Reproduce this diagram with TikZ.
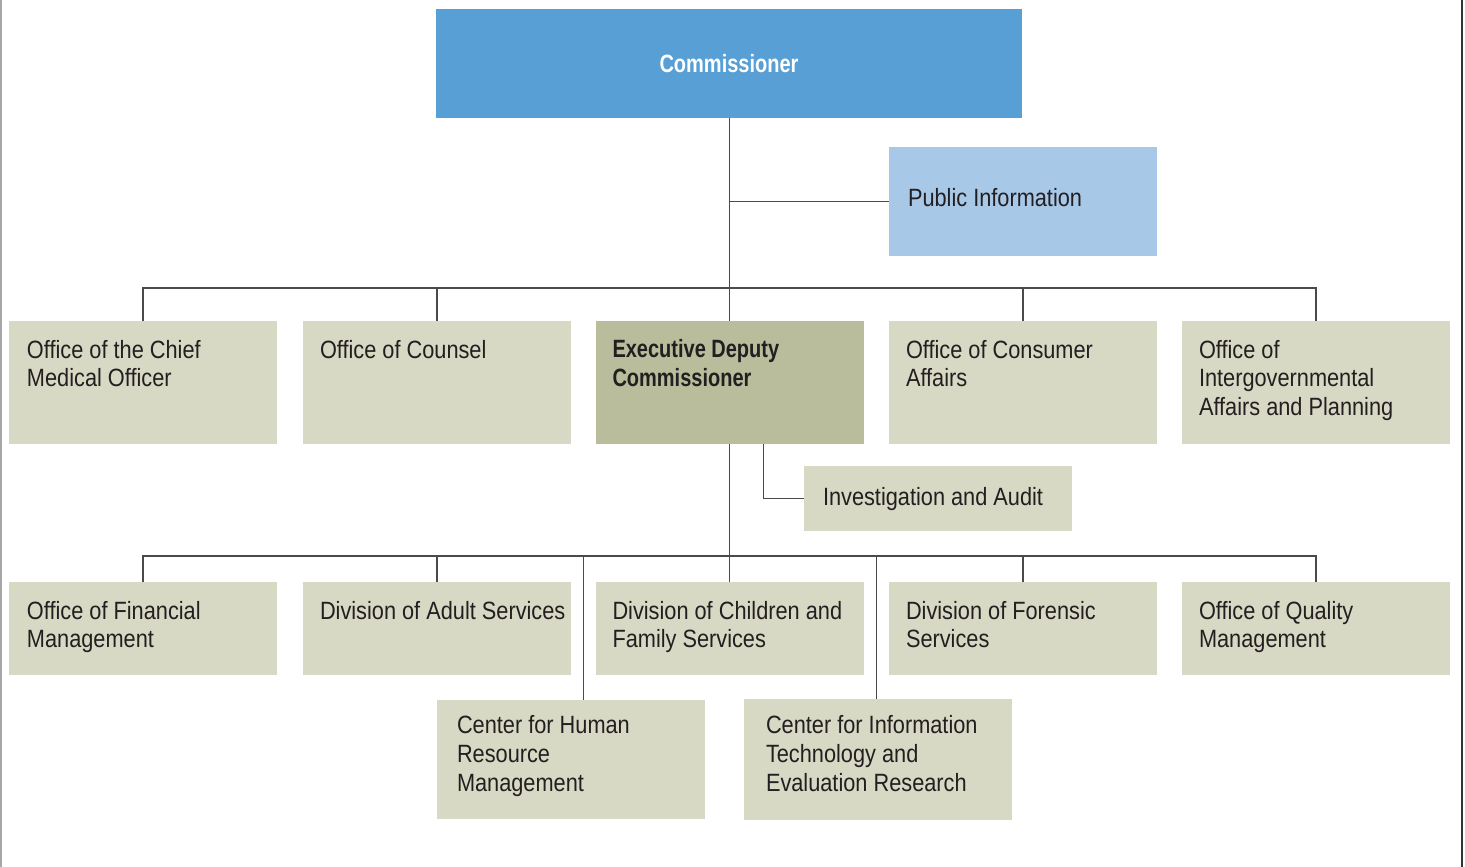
\documentclass[tikz,border=0pt]{standalone}
\usepackage{fontspec}
\usetikzlibrary{calc}
\newfontfamily\regf{Liberation Sans}[FakeStretch=0.87]
\newfontfamily\boldf{Liberation Sans}[FakeStretch=0.8]
\definecolor{comblue}{HTML}{589FD5}
\definecolor{publue}{HTML}{A8C8E8}
\definecolor{beige}{HTML}{D8D9C4}
\definecolor{olive}{HTML}{B9BD9C}
\definecolor{txt}{HTML}{231F20}
\definecolor{ln}{HTML}{4A4A4A}
% #1 width, #2 height, #3 left pad, #4 first baseline offset, #5 text
\newcommand{\bxt}[5]{\parbox[c][#2pt][t]{#1pt}{\raggedright\leftskip=#3pt\relax
  \vspace*{\dimexpr #4pt-20pt\relax}\rule{0pt}{20pt}#5}}
\begin{document}
\begin{tikzpicture}[x=1pt,y=-1pt,
  box/.style={inner sep=0pt, outer sep=0pt, fill=beige, text=txt,
    font=\regf\fontsize{25}{28.8}\selectfont},
  conn/.style={draw=ln, line width=1.5pt}]
\useasboundingbox (0,0) rectangle (1465,867);
\fill[white] (0,0) rectangle (1465,867);
\draw[draw=black!35, line width=1.5pt] (0.75,0) -- (0.75,867);
\draw[draw=black!80, line width=1.5pt] (1462,0) -- (1462,867);

% top
\node[box, fill=comblue, text=white, minimum width=586pt, minimum height=109pt,
  font=\boldf\bfseries\fontsize{25}{28.8}\selectfont] (com) at (729,63.5) {\rule{0pt}{17pt}Commissioner};
\node[box, fill=publue] (pub) at (1023,201.5) {\bxt{268}{109}{19}{59}{Public Information}};

% row 1
\node[box] (cmo)  at (143,382.5)  {\bxt{268}{123}{18}{37}{Office of the Chief\\Medical Officer}};
\node[box] (cou)  at (437,382.5)  {\bxt{268}{123}{17}{37}{Office of Counsel}};
\node[box, fill=olive, font=\boldf\bfseries\fontsize{25}{29.5}\selectfont] (edc) at (729.5,382.5)
  {\bxt{268}{123}{17}{36}{Executive Deputy\\Commissioner}};
\node[box] (oca)  at (1023,382.5) {\bxt{268}{123}{17}{37}{Office of Consumer\\Affairs}};
\node[box] (igov) at (1316,382.5) {\bxt{268}{123}{17}{37}{Office of\\Intergovernmental\\Affairs and Planning}};

\node[box] (inv) at (938,498.25) {\bxt{268}{64.5}{19}{39}{Investigation and Audit}};

% row 2
\node[box] (ofm) at (143,628.5)  {\bxt{268}{93}{18}{37}{Office of Financial\\Management}};
\node[box] (das) at (437,628.5)  {\bxt{268}{93}{17}{37}{Division of Adult Services}};
\node[box] (dcf) at (729.5,628.5)  {\bxt{268}{93}{17}{37}{Division of Children and\\Family Services}};
\node[box] (dfs) at (1023,628.5) {\bxt{268}{93}{17}{37}{Division of Forensic\\Services}};
\node[box] (oqm) at (1316,628.5) {\bxt{268}{93}{17}{37}{Office of Quality\\Management}};

% row 3
\node[box] (hr) at (571,759.5) {\bxt{268}{119}{20}{33.5}{Center for Human\\Resource\\Management}};
\node[box] (it) at (878,759.5) {\bxt{268}{121}{22}{34.5}{Center for Information\\Technology and\\Evaluation Research}};

% connectors
\coordinate (b1) at (0,288);
\coordinate (b2) at (0,556);
\coordinate (g1) at ($(das.north east)!0.5!(dcf.north west)$);
\coordinate (g2) at ($(dcf.north east)!0.5!(dfs.north west)$);
\coordinate (e1) at ([xshift=34pt]edc.south);

\draw[conn] (edc.north |- com.south) -- (edc.north);
\draw[conn] (edc.north |- pub.west) -- (pub.west);
\draw[conn] (cmo.north) -- (cmo.north |- b1) -- (igov.north |- b1) -- (igov.north);
\draw[conn] (cou.north |- b1) -- (cou.north);
\draw[conn] (oca.north |- b1) -- (oca.north);

\draw[conn] (e1) |- (inv.west);
\draw[conn] (edc.south) -- (dcf.north);
\draw[conn] (ofm.north) -- (ofm.north |- b2) -- (oqm.north |- b2) -- (oqm.north);
\draw[conn] (das.north |- b2) -- (das.north);
\draw[conn] (dfs.north |- b2) -- (dfs.north);
\draw[conn] (g1 |- b2) -- (g1 |- hr.north);
\draw[conn] (g2 |- b2) -- (g2 |- it.north);
\end{tikzpicture}
\end{document}
